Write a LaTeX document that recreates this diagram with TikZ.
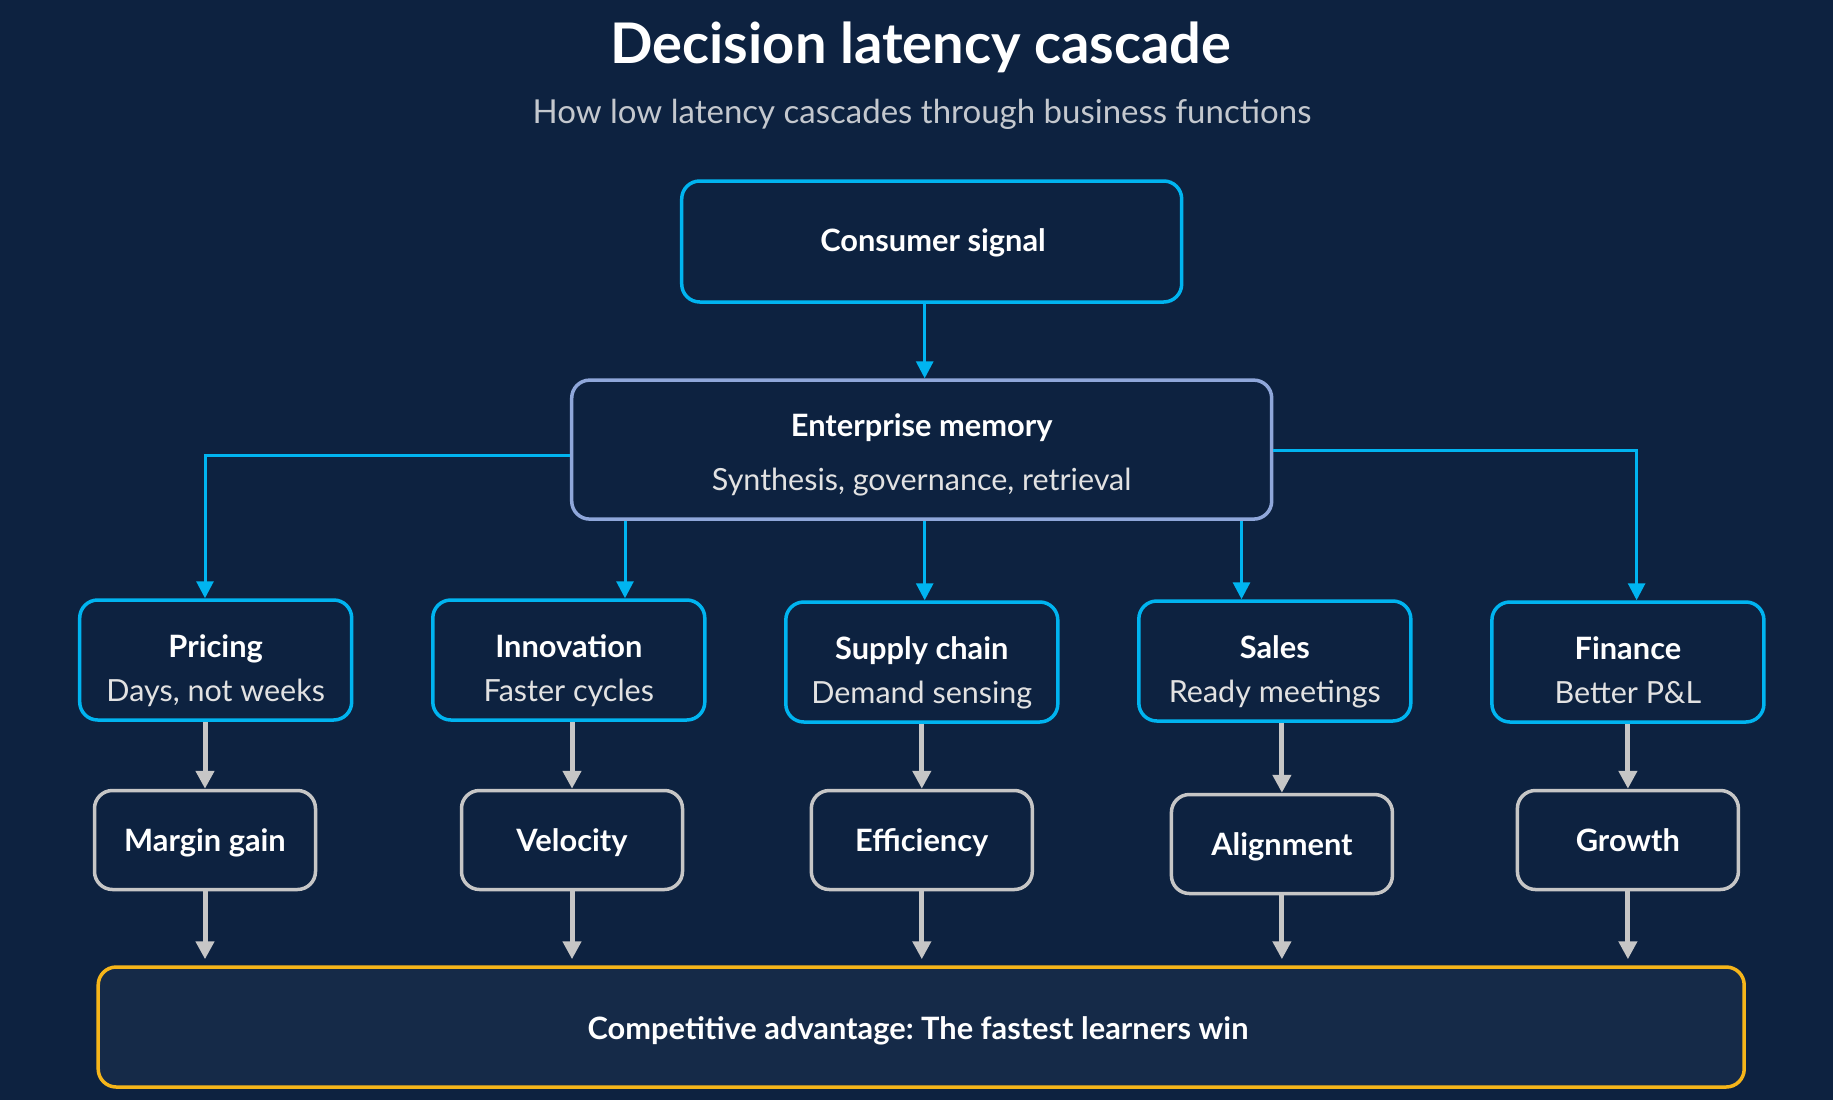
\documentclass[tikz,border=0pt]{standalone}
\usepackage{fontspec}
\setmainfont{Lato}
\usetikzlibrary{arrows.meta,calc}
\definecolor{bgc}{HTML}{0D2240}
\definecolor{advfill}{HTML}{152A48}
\definecolor{cyanc}{HTML}{00B4F0}
\definecolor{lavc}{HTML}{8FA7DA}
\definecolor{greyc}{HTML}{C6C6C6}
\definecolor{goldc}{HTML}{F5B51A}
\definecolor{subc}{HTML}{C4C8CE}
\definecolor{subtxt}{HTML}{E2E2E2}
\frenchspacing
\tikzset{
  boxbase/.style={rectangle, rounded corners=18pt, line width=3.5pt, fill=bgc, inner sep=0pt},
  cyanbox/.style={boxbase, draw=cyanc},
  lavbox/.style={boxbase, draw=lavc},
  greybox/.style={boxbase, draw=greyc, minimum width=221pt, minimum height=99pt},
  fnbox/.style={cyanbox, minimum width=272pt, minimum height=120pt},
  advbox/.style={boxbase, draw=goldc, fill=advfill, minimum width=1646pt, minimum height=120pt},
  bold30/.style={font=\fontsize{30.8}{34}\selectfont\bfseries, text=white, anchor=base, inner sep=0pt},
  reg30/.style={font=\fontsize{30.5}{34}\selectfont, text=subtxt, anchor=base, inner sep=0pt},
  cyanarrow/.style={draw=cyanc, line width=3pt, -{Triangle[width=17pt,length=17pt]}},
  greyarrow/.style={draw=greyc, line width=5pt, -{Triangle[width=18pt,length=18pt]}},
}
\begin{document}
\begin{tikzpicture}[x=1pt,y=-1pt]
\useasboundingbox (0,0) rectangle (1833,1100);
\fill[bgc] (0,0) rectangle (1833,1100);

% title
\node[font=\fontsize{56}{60}\selectfont\bfseries, text=white, anchor=base, inner sep=0pt] (title) at (921,63) {Decision latency cascade};
\node[font=\fontsize{33}{36}\selectfont, text=subc, anchor=base, inner sep=0pt] (subtitle) at (922,123) {How low latency cascades through business functions};

% top boxes
\node[cyanbox, minimum width=500pt, minimum height=121pt] (cs) at (931.7,241.5) {};
\node[bold30] (cst) at (933,251) {Consumer signal};

\node[lavbox, minimum width=700pt, minimum height=139pt] (em) at (921.7,449.6) {};
\node[bold30] (emt) at (921.7,436) {Enterprise memory};
\node[reg30] (ems) at (921.7,490) {Synthesis, governance, retrieval};

% function boxes
\node[fnbox] (pr) at (215.7,660) {};
\node[bold30] at (215.7,657) {Pricing};
\node[reg30] at (215.7,701) {Days, not weeks};

\node[fnbox] (in) at (568.8,660) {};
\node[bold30] at (568.8,657) {Innovation};
\node[reg30] at (568.8,701) {Faster cycles};

\node[fnbox] (sc) at (921.8,662) {};
\node[bold30] at (921.8,659) {Supply chain};
\node[reg30] at (921.8,703) {Demand sensing};

\node[fnbox] (sa) at (1274.8,661) {};
\node[bold30] at (1274.8,658) {Sales};
\node[reg30] at (1274.8,702) {Ready meetings};

\node[fnbox] (fi) at (1627.9,662) {};
\node[bold30] at (1627.9,659) {Finance};
\node[reg30] at (1627.9,703) {Better P\&L};

% outcome boxes
\node[greybox] (mg) at (205,840) {};
\node[bold30] at (205,851) {Margin gain};
\node[greybox] (ve) at (572,840) {};
\node[bold30] at (572,851) {Velocity};
\node[greybox] (ef) at (921.8,840) {};
\node[bold30] at (921.8,851) {Efficiency};
\node[greybox] (al) at (1281.9,844) {};
\node[bold30] at (1281.9,855) {Alignment};
\node[greybox] (gr) at (1627.9,840) {};
\node[bold30] at (1627.9,851) {Growth};

% advantage box
\node[advbox] (adv) at (921.2,1027) {};
\node[bold30] at (918,1039) {Competitive advantage: The fastest learners win};

% coordinates for arrow columns
\coordinate (xpr) at (205,0);
\coordinate (xin) at (625,0);
\coordinate (xsc) at (924.7,0);
\coordinate (xsa) at (1241.5,0);
\coordinate (xfi) at (1636.6,0);
\coordinate (yl) at (0,455);
\coordinate (yr) at (0,450);

% cyan connectors
\draw[cyanarrow] (cs.south -| xsc) -- (em.north -| xsc);
\draw[cyanarrow] (em.west |- yl) -| (pr.north -| xpr);
\draw[cyanarrow] (em.east |- yr) -| (fi.north -| xfi);
\draw[cyanarrow] (em.south -| xin) -- (in.north -| xin);
\draw[cyanarrow] (em.south -| xsc) -- (sc.north -| xsc);
\draw[cyanarrow] (em.south -| xsa) -- (sa.north -| xsa);

% grey arrows
\draw[greyarrow] (pr.south -| mg.north) -- (mg.north);
\draw[greyarrow] (in.south -| ve.north) -- (ve.north);
\draw[greyarrow] (sc.south -| ef.north) -- (ef.north);
\draw[greyarrow] (sa.south -| al.north) -- (al.north);
\draw[greyarrow] (fi.south -| gr.north) -- (gr.north);

\draw[greyarrow, shorten >=6pt] (mg.south) -- (mg.south |- adv.north);
\draw[greyarrow, shorten >=6pt] (ve.south) -- (ve.south |- adv.north);
\draw[greyarrow, shorten >=6pt] (ef.south) -- (ef.south |- adv.north);
\draw[greyarrow, shorten >=6pt] (al.south) -- (al.south |- adv.north);
\draw[greyarrow, shorten >=6pt] (gr.south) -- (gr.south |- adv.north);
\end{tikzpicture}
\end{document}
